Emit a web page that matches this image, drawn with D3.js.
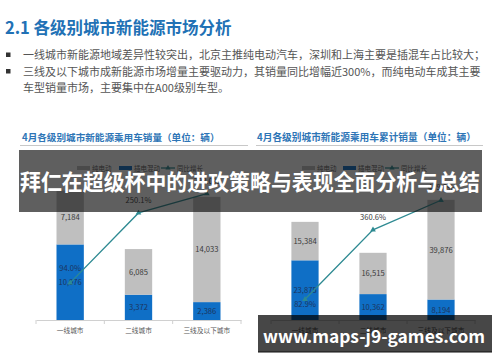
<!DOCTYPE html>
<html>
<head>
<meta charset="utf-8">
<script src="https://cdn.jsdelivr.net/npm/d3@7"></script>
<style>
body { margin: 0; background: #fff; }
svg { display: block; }
text { font-family: "Noto Sans CJK SC", "Noto Sans", sans-serif; }
</style>
</head>
<body>
<script>
var width = 500
var height = 362

// data
var cities = ["一线城市", "二线城市", "三线及以下城市"]
var seriesNames = ["纯电动", "插电混动", "同比增长"]
var monthEV = [7184, 6085, 14033]
var monthPHEV = [10076, 3372, 2386]
var monthGrowth = [94.0, 250.1, 293.0]
var cumEV = [15384, 16515, 39876]
var cumPHEV = [23875, 10362, 8194]
var cumGrowth = [82.9, 360.6, 479.0]

var grayColor = "#bfbfbf"
var blueColor = "#0f6fc6"
var lineColor = "#2e8a92"

var svg = d3.select("body").append("svg")
  .attr("width", width)
  .attr("height", height)

// header
svg.append("text")
  .attr("x", 5).attr("y", 34)
  .attr("font-size", 16.5).attr("font-weight", "bold")
  .attr("fill", "#2171b5")
  .text("2.1 各级别城市新能源市场分析")

var bullets = [
  {y: 55, text: "一线城市新能源地域差异性较突出，北京主推纯电动汽车，深圳和上海主要是插混车占比较大；", box: true},
  {y: 71.5, text: "三线及以下城市成新能源市场增量主要驱动力，其销量同比增幅近300%，而纯电动车成其主要", box: true},
  {y: 88, text: "车型销量市场，主要集中在A00级别车型。", box: false}
]
bullets.forEach(function(b) {
  if (b.box) {
    svg.append("rect").attr("x", 6).attr("y", b.y - 2.5).attr("width", 4.5).attr("height", 4.5).attr("fill", "#333")
  }
  svg.append("text")
    .attr("x", 23).attr("y", b.y + 4)
    .attr("font-size", 11).attr("fill", "#555")
    .text(b.text)
})

function drawChart(opt) {
  var g = svg.append("g")

  g.append("text")
    .attr("x", opt.titleX).attr("y", 141)
    .attr("font-size", opt.titleSize).attr("font-weight", "bold")
    .attr("fill", "#2e75b6")
    .text(opt.title)
  g.append("line")
    .attr("x1", opt.lineX[0]).attr("x2", opt.lineX[1])
    .attr("y1", 145.5).attr("y2", 145.5)
    .attr("stroke", "#c8c8c8").attr("stroke-width", 1)

  var x = d3.scaleBand()
    .domain(cities)
    .range(opt.xRange)
    .paddingInner(0.6)
    .paddingOuter(0.3)

  var y = d3.scaleLinear()
    .domain([0, opt.yMax])
    .range([320, 170])

  var y2 = d3.scaleLinear()
    .domain(opt.y2Domain)
    .range([320, 170])

  var stack = cities.map(function(c, i) {
    return {city: c, phev: opt.phev[i], ev: opt.ev[i], growth: opt.growth[i]}
  })

  // blue (bottom) segment
  g.selectAll(".phev").data(stack).enter().append("rect")
    .attr("x", function(d) { return x(d.city) })
    .attr("width", x.bandwidth())
    .attr("y", function(d) { return y(d.phev) })
    .attr("height", function(d) { return y(0) - y(d.phev) })
    .attr("fill", blueColor)

  // gray (top) segment
  g.selectAll(".ev").data(stack).enter().append("rect")
    .attr("x", function(d) { return x(d.city) })
    .attr("width", x.bandwidth())
    .attr("y", function(d) { return y(d.phev + d.ev) })
    .attr("height", function(d) { return y(d.phev) - y(d.phev + d.ev) })
    .attr("fill", grayColor)

  var fmt = d3.format(",")
  g.selectAll(".phevLabel").data(stack).enter().append("text")
    .attr("x", function(d) { return x(d.city) + x.bandwidth() / 2 })
    .attr("y", function(d) { return (y(0) + y(d.phev)) / 2 + 3 })
    .attr("text-anchor", "middle").attr("font-size", 7.6)
    .attr("fill", "#1b3560")
    .text(function(d) { return fmt(d.phev) })
  g.selectAll(".evLabel").data(stack).enter().append("text")
    .attr("x", function(d) { return x(d.city) + x.bandwidth() / 2 })
    .attr("y", function(d) { return (y(d.phev) + y(d.phev + d.ev)) / 2 + 3 })
    .attr("text-anchor", "middle").attr("font-size", 7.6)
    .attr("fill", "#3a3a3a")
    .text(function(d) { return fmt(d.ev) })

  // axis
  var axis = g.append("g")
    .attr("transform", "translate(0,320)")
    .call(d3.axisBottom(x).tickSize(0).tickPadding(8))
  axis.select(".domain").attr("stroke", "#d0d0d0")
  axis.selectAll("text")
    .attr("font-size", 6.7).attr("fill", "#595959")
    .attr("font-family", "Noto Sans CJK SC")
  d3.range(cities.length + 1).forEach(function(i) {
    var tx = x.range()[0] + i * x.step()
    axis.append("line")
      .attr("x1", tx).attr("x2", tx).attr("y1", 0).attr("y2", 4)
      .attr("stroke", "#d0d0d0")
  })

  // growth line
  var line = d3.line()
    .x(function(d) { return x(d.city) + x.bandwidth() / 2 })
    .y(function(d) { return y2(d.growth) })
  g.append("path").datum(stack)
    .attr("d", line)
    .attr("fill", "none")
    .attr("stroke", lineColor).attr("stroke-width", 1.3)
  g.selectAll(".mark").data(stack).enter().append("path")
    .attr("d", d3.symbol().type(d3.symbolTriangle).size(14))
    .attr("transform", function(d) {
      return "translate(" + (x(d.city) + x.bandwidth() / 2) + "," + y2(d.growth) + ")"
    })
    .attr("fill", lineColor)
  g.selectAll(".growthLabel").data(stack).enter().append("text")
    .attr("x", function(d) { return x(d.city) + x.bandwidth() / 2 })
    .attr("y", function(d, i) { return y2(d.growth) + opt.growthDy[i] })
    .attr("text-anchor", "middle").attr("font-size", 7.6)
    .attr("fill", function(d, i) { return i == 0 ? "#1b3560" : "#3a3a3a" })
    .text(function(d) { return d.growth.toFixed(1) + "%" })

  // legend
  var lg = g.append("g").attr("transform", "translate(" + opt.legendX + ",168)")
  var lx = opt.legendPos
  lg.append("rect").attr("x", lx[0]).attr("y", -2).attr("width", 13).attr("height", 4).attr("fill", grayColor)
  lg.append("text").attr("x", lx[0] + 15).attr("y", 2.5).attr("font-size", 6.5).attr("fill", "#595959").text(seriesNames[0])
  lg.append("rect").attr("x", lx[1]).attr("y", -2).attr("width", 13).attr("height", 4).attr("fill", blueColor)
  lg.append("text").attr("x", lx[1] + 15).attr("y", 2.5).attr("font-size", 6.5).attr("fill", "#595959").text(seriesNames[1])
  lg.append("line").attr("x1", lx[2]).attr("x2", lx[2] + 14).attr("y1", 0).attr("y2", 0).attr("stroke", lineColor).attr("stroke-width", 1.3)
  lg.append("path").attr("d", d3.symbol().type(d3.symbolTriangle).size(12)).attr("transform", "translate(" + (lx[2] + 7) + ",0)").attr("fill", lineColor)
  lg.append("text").attr("x", lx[2] + 16).attr("y", 2.5).attr("font-size", 6.5).attr("fill", "#595959").text(seriesNames[2])
}

drawChart({
  title: "4月各级别城市新能源乘用车销量（单位：辆）",
  titleX: 22, titleSize: 9.6, lineX: [20, 248],
  xRange: [36, 241], yMax: 20000, y2Domain: [11, 346],
  ev: monthEV, phev: monthPHEV, growth: monthGrowth,
  growthDy: [-12, -10, -10],
  legendX: 77, legendPos: [0, 42, 84]
})

drawChart({
  title: "4月各级别城市新能源乘用车累计销量（单位：辆）",
  titleX: 257, titleSize: 9.7, lineX: [256, 483],
  xRange: [271, 475], yMax: 60000, y2Domain: [0, 600],
  ev: cumEV, phev: cumPHEV, growth: cumGrowth,
  growthDy: [8, -10, -10],
  legendX: 302, legendPos: [0, 41, 83]
})

// overlay banner
svg.append("rect")
  .attr("x", 19).attr("y", 150).attr("width", 463).attr("height", 62)
  .attr("fill", "rgba(16,16,16,0.67)")
svg.append("text")
  .attr("x", 250).attr("y", 190)
  .attr("text-anchor", "middle")
  .attr("font-size", 21.8).attr("font-weight", "bold")
  .attr("textLength", 460).attr("lengthAdjust", "spacingAndGlyphs")
  .attr("fill", "#fff")
  .text("拜仁在超级杯中的进攻策略与表现全面分析与总结")

// watermark
svg.append("rect")
  .attr("x", 258).attr("y", 315).attr("width", 234).attr("height", 37)
  .attr("fill", "rgba(0,0,0,0.72)")
svg.append("line")
  .attr("x1", 258).attr("x2", 492).attr("y1", 352).attr("y2", 352)
  .attr("stroke", "#111").attr("stroke-width", 1)
svg.append("text")
  .attr("x", 374).attr("y", 343)
  .attr("text-anchor", "middle")
  .attr("font-family", "Liberation Sans, Arial, sans-serif")
  .attr("font-size", 17.4).attr("font-weight", "bold")
  .attr("fill", "#fff")
  .text("www.maps-j9-games.com")
</script>
</body>
</html>
